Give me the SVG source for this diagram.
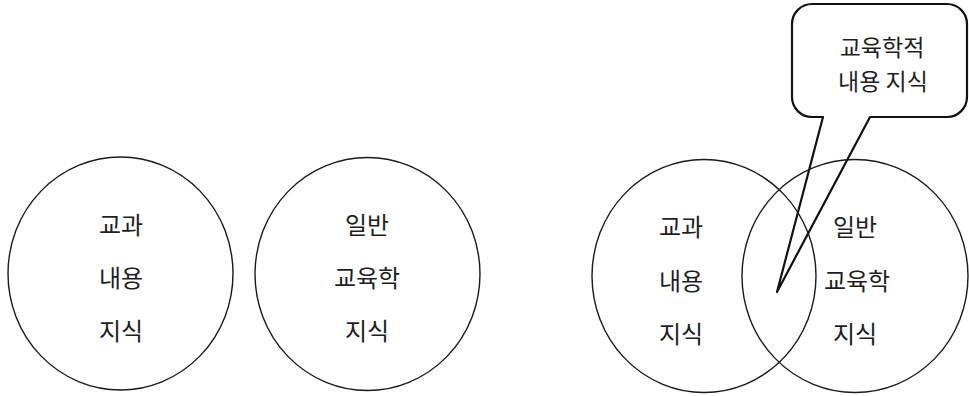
<svg xmlns="http://www.w3.org/2000/svg" width="969" height="396" viewBox="0 0 969 396">
<style>
.c{fill:none;stroke:#1a1a1a;stroke-width:1.4}
.t{font-family:"Noto Sans CJK KR","Noto Sans",sans-serif;font-size:24px;fill:#1e1e1e;text-anchor:middle}
.big{font-size:23px}
.co{fill:none;stroke:#111;stroke-width:2.2;stroke-linejoin:round}
</style>
<rect width="969" height="396" fill="#fff"/>
<g id="left-subject">
<ellipse class="c" cx="120.5" cy="273.5" rx="112.5" ry="116.5"/>
<text class="t" x="121" y="234">교과</text>
<text class="t" x="121" y="287">내용</text>
<text class="t" x="121" y="340">지식</text>
</g>
<g id="left-pedagogy">
<ellipse class="c" cx="367.5" cy="274" rx="112.5" ry="116.5"/>
<text class="t" x="367" y="234">일반</text>
<text class="t" x="367" y="287">교육학</text>
<text class="t" x="367" y="340">지식</text>
</g>
<g id="right-subject">
<ellipse class="c" cx="704" cy="276" rx="112" ry="116.5"/>
<text class="t" x="681" y="236">교과</text>
<text class="t" x="681" y="290">내용</text>
<text class="t" x="681" y="343">지식</text>
</g>
<g id="right-pedagogy">
<ellipse class="c" cx="855" cy="276" rx="113" ry="116.5"/>
<text class="t" x="855" y="236">일반</text>
<text class="t" x="857" y="290">교육학</text>
<text class="t" x="855" y="343">지식</text>
</g>
<g id="callout">
<path class="co" d="M812,4 H947 A20,20 0 0 1 967,24 V97 A20,20 0 0 1 947,117 H870 L777,292 L823,117 H812 A20,20 0 0 1 792,97 V24 A20,20 0 0 1 812,4 Z"/>
<text class="t big" x="882" y="56">교육학적</text>
<text class="t big" x="883" y="90">내용 지식</text>
</g>
<g id="connectors"></g>
</svg>
